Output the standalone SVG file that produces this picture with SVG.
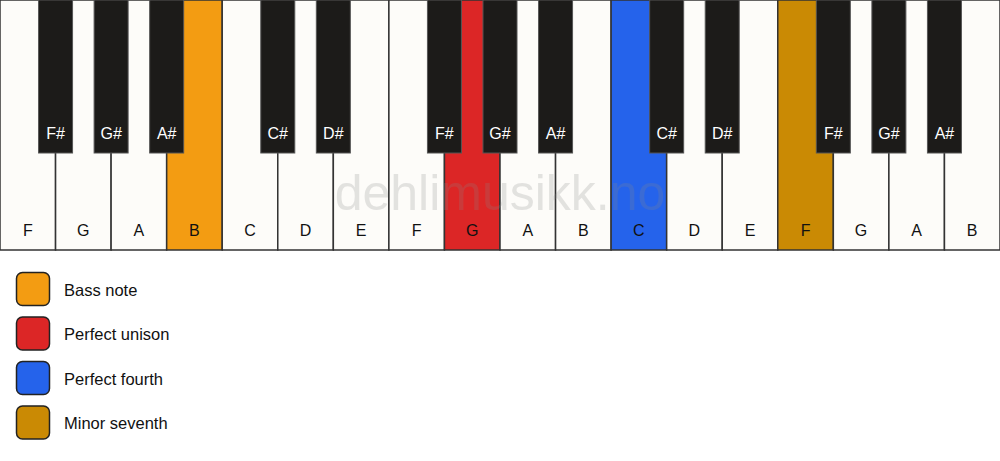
<svg xmlns="http://www.w3.org/2000/svg" width="1000" height="461" viewBox="0 0 1000 461">
<style>
.w{fill:#fdfcf9;stroke:#333;stroke-width:1.5}
.b{fill:#1c1b19;stroke:#555;stroke-width:1}
.wl{font-family:"Liberation Sans",Arial,sans-serif;font-size:16px;fill:#111;text-anchor:middle}
.bl{font-family:"Liberation Sans",Arial,sans-serif;font-size:16px;fill:#fff;text-anchor:middle}
.lg{stroke:#222;stroke-width:1.5}
.lt{font-family:"Liberation Sans",Arial,sans-serif;font-size:16.5px;fill:#111}
</style>
<rect width="1000" height="461" fill="#ffffff"/>
<g id="white-keys">
<rect class="w" x="0" y="0" width="55.56" height="250"/><text class="wl" x="27.8" y="236">F</text>
<rect class="w" x="55.56" y="0" width="55.56" height="250"/><text class="wl" x="83.3" y="236">G</text>
<rect class="w" x="111.11" y="0" width="55.56" height="250"/><text class="wl" x="138.9" y="236">A</text>
<rect class="w" x="166.67" y="0" width="55.56" height="250" style="fill:#f39c12"/><text class="wl" x="194.4" y="236">B</text>
<rect class="w" x="222.22" y="0" width="55.56" height="250"/><text class="wl" x="250" y="236">C</text>
<rect class="w" x="277.78" y="0" width="55.56" height="250"/><text class="wl" x="305.6" y="236">D</text>
<rect class="w" x="333.33" y="0" width="55.56" height="250"/><text class="wl" x="361.1" y="236">E</text>
<rect class="w" x="388.89" y="0" width="55.56" height="250"/><text class="wl" x="416.7" y="236">F</text>
<rect class="w" x="444.44" y="0" width="55.56" height="250" style="fill:#dc2626"/><text class="wl" x="472.2" y="236">G</text>
<rect class="w" x="500" y="0" width="55.56" height="250"/><text class="wl" x="527.8" y="236">A</text>
<rect class="w" x="555.56" y="0" width="55.56" height="250"/><text class="wl" x="583.3" y="236">B</text>
<rect class="w" x="611.11" y="0" width="55.56" height="250" style="fill:#2563eb"/><text class="wl" x="638.9" y="236">C</text>
<rect class="w" x="666.67" y="0" width="55.56" height="250"/><text class="wl" x="694.4" y="236">D</text>
<rect class="w" x="722.22" y="0" width="55.56" height="250"/><text class="wl" x="750" y="236">E</text>
<rect class="w" x="777.78" y="0" width="55.56" height="250" style="fill:#ca8a04"/><text class="wl" x="805.6" y="236">F</text>
<rect class="w" x="833.33" y="0" width="55.56" height="250"/><text class="wl" x="861.1" y="236">G</text>
<rect class="w" x="888.89" y="0" width="55.56" height="250"/><text class="wl" x="916.7" y="236">A</text>
<rect class="w" x="944.44" y="0" width="55.56" height="250"/><text class="wl" x="972.2" y="236">B</text>
</g>
<g id="black-keys">
<rect class="b" x="38.56" y="0" width="34" height="153"/><text class="bl" x="55.56" y="139">F#</text>
<rect class="b" x="94.11" y="0" width="34" height="153"/><text class="bl" x="111.11" y="139">G#</text>
<rect class="b" x="149.67" y="0" width="34" height="153"/><text class="bl" x="166.67" y="139">A#</text>
<rect class="b" x="260.78" y="0" width="34" height="153"/><text class="bl" x="277.78" y="139">C#</text>
<rect class="b" x="316.33" y="0" width="34" height="153"/><text class="bl" x="333.33" y="139">D#</text>
<rect class="b" x="427.44" y="0" width="34" height="153"/><text class="bl" x="444.44" y="139">F#</text>
<rect class="b" x="483" y="0" width="34" height="153"/><text class="bl" x="500" y="139">G#</text>
<rect class="b" x="538.56" y="0" width="34" height="153"/><text class="bl" x="555.56" y="139">A#</text>
<rect class="b" x="649.67" y="0" width="34" height="153"/><text class="bl" x="666.67" y="139">C#</text>
<rect class="b" x="705.22" y="0" width="34" height="153"/><text class="bl" x="722.22" y="139">D#</text>
<rect class="b" x="816.33" y="0" width="34" height="153"/><text class="bl" x="833.33" y="139">F#</text>
<rect class="b" x="871.89" y="0" width="34" height="153"/><text class="bl" x="888.89" y="139">G#</text>
<rect class="b" x="927.44" y="0" width="34" height="153"/><text class="bl" x="944.44" y="139">A#</text>
</g>
<g id="watermark">
<text x="500" y="210" font-family="'Liberation Sans',Arial,sans-serif" font-size="50" fill="#888" opacity="0.22" text-anchor="middle">dehlimusikk.no</text>
</g>
<g id="legend">
<rect class="lg" x="16.5" y="272.5" width="33" height="33" rx="6" fill="#f39c12"/><text class="lt" x="64" y="295.5">Bass note</text>
<rect class="lg" x="16.5" y="317" width="33" height="33" rx="6" fill="#dc2626"/><text class="lt" x="64" y="340">Perfect unison</text>
<rect class="lg" x="16.5" y="361.5" width="33" height="33" rx="6" fill="#2563eb"/><text class="lt" x="64" y="384.5">Perfect fourth</text>
<rect class="lg" x="16.5" y="406" width="33" height="33" rx="6" fill="#ca8a04"/><text class="lt" x="64" y="429">Minor seventh</text>
</g>
</svg>
